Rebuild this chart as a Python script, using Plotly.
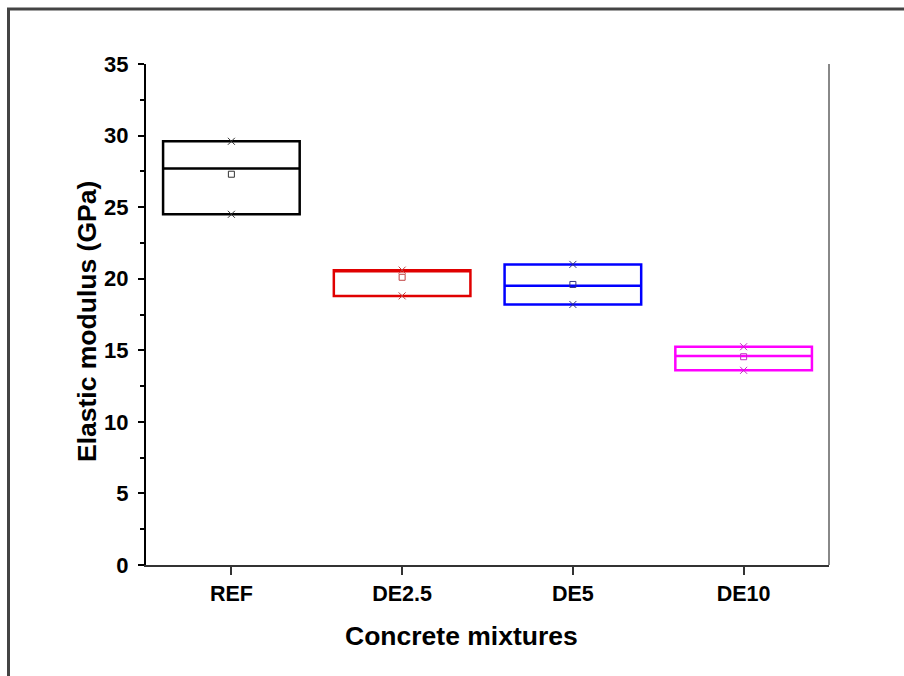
import plotly.graph_objects as go

categories = ["REF", "DE2.5", "DE5", "DE10"]
min_vals = [24.5, 18.8, 18.2, 13.6]
median_vals = [27.7, 20.6, 19.5, 14.6]
max_vals = [29.6, 20.6, 21.0, 15.25]
mean_vals = [27.3, 20.1, 19.6, 14.55]
colors = ["#000000", "#e00000", "#0000ff", "#ff00ff"]
marker_colors = ["#333333", "#c04040", "#303080", "#c030c0"]

FONT = "Arial, Liberation Sans, sans-serif"

fig = go.Figure()
for i, cat in enumerate(categories):
    fig.add_trace(go.Box(
        x=[cat], q1=[min_vals[i]], median=[median_vals[i]], q3=[max_vals[i]],
        lowerfence=[min_vals[i]], upperfence=[max_vals[i]],
        width=0.8, whiskerwidth=0,
        line=dict(color=colors[i], width=2.5),
        fillcolor="rgba(255,255,255,0)",
        boxpoints=False, showlegend=False, hoverinfo="skip",
    ))
    fig.add_trace(go.Scatter(
        x=[cat, cat], y=[min_vals[i], max_vals[i]], mode="markers",
        marker=dict(symbol="x-thin-open", size=7, color=marker_colors[i],
                    line=dict(color=marker_colors[i], width=1)),
        showlegend=False, hoverinfo="skip",
    ))
    fig.add_trace(go.Scatter(
        x=[cat], y=[mean_vals[i]], mode="markers",
        marker=dict(symbol="square-open", size=6, color=marker_colors[i],
                    line=dict(color=marker_colors[i], width=1)),
        showlegend=False, hoverinfo="skip",
    ))

fig.update_layout(
    width=904, height=676,
    margin=dict(l=146, r=75, t=64, b=111),
    paper_bgcolor="white", plot_bgcolor="white",
    boxmode="overlay",
    font=dict(family=FONT, color="black"),
    xaxis=dict(
        type="category", categoryorder="array", categoryarray=categories,
        range=[-0.5, 3.5], showgrid=False, zeroline=False,
        showline=True, linecolor="#333333", linewidth=1.5,
        ticks="outside", ticklen=8, tickwidth=1.5, tickcolor="#333333",
        tickfont=dict(size=21.5, family=FONT, weight="bold"),
    ),
    yaxis=dict(
        range=[0, 35], dtick=5, tick0=0, showgrid=False, zeroline=False,
        showline=True, linecolor="black", linewidth=2,
        ticks="outside", ticklen=6, tickwidth=1.5, tickcolor="black",
        minor=dict(ticks="outside", ticklen=4, dtick=2.5, tickwidth=1.5, tickcolor="black"),
        tickfont=dict(size=22, family=FONT, weight="bold"),
        ticklabelstandoff=5,
    ),
    annotations=[
        dict(text="Concrete mixtures", xref="paper", yref="paper",
             x=(461.5 - 146) / 683, y=(565 - 636) / 501, xanchor="center", yanchor="middle",
             showarrow=False, font=dict(size=26.5, family=FONT, weight="bold")),
        dict(text="Elastic modulus (GPa)", xref="paper", yref="paper",
             x=(87 - 146) / 683, y=(565 - 322) / 501, xanchor="center", yanchor="middle",
             textangle=-90, showarrow=False, font=dict(size=26.5, family=FONT, weight="bold")),
    ],
    shapes=[
        dict(type="line", xref="paper", yref="paper", x0=1, x1=1, y0=0, y1=1,
             line=dict(color="#888888", width=2)),
        dict(type="rect", xref="paper", yref="paper",
             x0=(8.5 - 146) / 683, x1=1.3, y0=-0.5, y1=(565 - 9) / 501,
             line=dict(color="#444444", width=3)),
    ],
)

fig.write_html("out.html")
